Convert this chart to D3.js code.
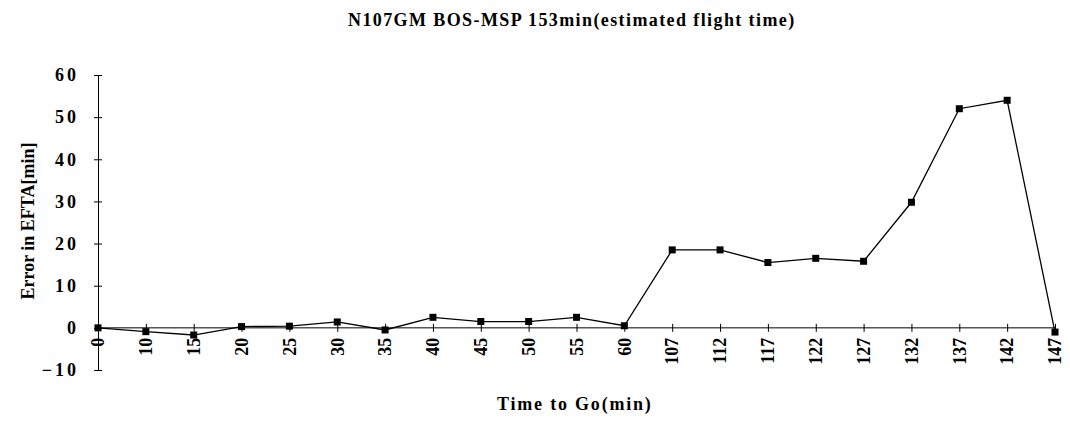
<!DOCTYPE html>
<html><head><meta charset="utf-8">
<script src="https://cdn.jsdelivr.net/npm/d3@7"></script>
<style>body{margin:0;background:#fff}svg{display:block}</style>
</head><body>
<svg id="c" width="1070" height="428"></svg>
<script>
const categories = ["0","10","15","20","25","30","35","40","45","50","55","60","107","112","117","122","127","132","137","142","147"];
const errorValues = [0,-0.9,-1.7,0.3,0.4,1.4,-0.5,2.5,1.5,1.5,2.5,0.5,18.5,18.5,15.5,16.5,15.8,29.8,52,54,-1];
const yTicks = [-10,0,10,20,30,40,50,60];
const title = "N107GM BOS-MSP 153min(estimated flight time)";
const xTitle = "Time to Go(min)";
const yTitle = "Error in EFTA[min]";

const svg = d3.select("#c");
const font = "'Liberation Serif','Times New Roman',serif";
const x = d3.scalePoint().domain(categories).range([98,1055]);
const y = d3.scaleLinear().domain([-10,60]).range([370,75]);

svg.append("text").attr("x",348).attr("y",26).attr("text-anchor","start")
  .attr("font-family",font).attr("font-weight","bold").attr("font-size",18)
  .attr("letter-spacing","1.4px").text(title);

// y axis
const ya = svg.append("g").attr("transform","translate(98,0)")
  .call(d3.axisLeft(y).tickValues(yTicks).tickSizeInner(4).tickSizeOuter(0).tickPadding(15));
ya.selectAll(".tick line").attr("x2",-4).attr("x1",4).attr("stroke","#000");
ya.selectAll("text").attr("font-family",font).attr("font-weight","bold").attr("font-size",18)
  .attr("letter-spacing","3px").attr("fill","#000");
ya.select(".domain").attr("stroke","#000");

// x axis at zero
const xa = svg.append("g").attr("transform",`translate(0,${y(0)})`)
  .call(d3.axisBottom(x).tickSizeInner(4).tickSizeOuter(0).tickPadding(6));
xa.selectAll(".tick line").attr("y1",-4).attr("y2",4).attr("stroke","#000");
xa.select(".domain").attr("d",`M${x.range()[0]},0H${x.range()[1]}`).attr("stroke","#000");
xa.selectAll("text").attr("font-family",font).attr("font-weight","bold").attr("font-size",18)
  .attr("fill","#000").attr("text-anchor","end").attr("dy","0.32em")
  .attr("transform","translate(0,10) rotate(-90)").attr("x",0).attr("y",0);

// line
const data = categories.map((c,i)=>({c,v:errorValues[i]}));
svg.append("path").datum(data).attr("fill","none").attr("stroke","#000").attr("stroke-width",1.3)
  .attr("d",d3.line().x(d=>x(d.c)).y(d=>y(d.v)));
svg.selectAll("rect.m").data(data).join("rect").attr("class","m")
  .attr("x",d=>x(d.c)-3.5).attr("y",d=>y(d.v)-3.5).attr("width",7).attr("height",7).attr("fill","#000");

svg.append("text").attr("x",497).attr("y",410).attr("text-anchor","start")
  .attr("font-family",font).attr("font-weight","bold").attr("font-size",18)
  .attr("letter-spacing","1.8px").text(xTitle);
svg.append("text").attr("transform","translate(34,221) rotate(-90)").attr("text-anchor","middle")
  .attr("font-family",font).attr("font-weight","bold").attr("font-size",18).text(yTitle);
</script>
</body></html>
